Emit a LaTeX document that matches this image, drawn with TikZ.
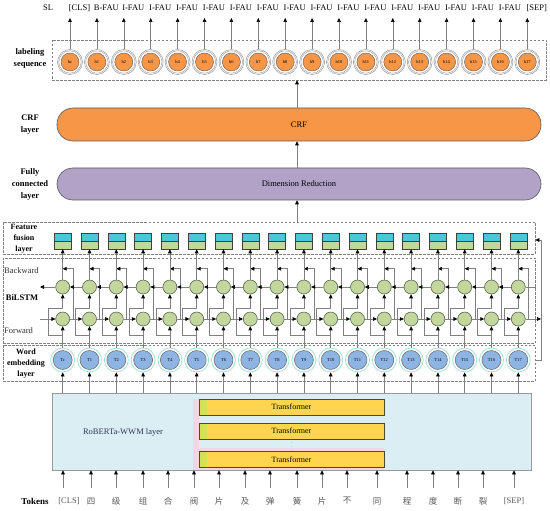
\documentclass[tikz,border=0pt]{standalone}
\usepackage{fontspec}
\setmainfont{Liberation Serif}
\newfontfamily\cjk{Noto Sans CJK SC}
\usetikzlibrary{arrows.meta,calc}
\definecolor{orangeF}{HTML}{F79646}
\definecolor{purpleF}{HTML}{B3A2C7}
\definecolor{lstmG}{HTML}{C3D69B}
\definecolor{fusC}{HTML}{4BC6DC}
\definecolor{robB}{HTML}{DAEEF3}
\definecolor{trY}{HTML}{FFD54F}
\definecolor{trL}{HTML}{D4E157}
\definecolor{pinkS}{HTML}{F2D6E6}
\definecolor{embB}{HTML}{8DB4E2}
\definecolor{embR}{HTML}{A6E3CF}
\definecolor{lineG}{HTML}{808080}
\definecolor{txtG}{HTML}{595959}
\begin{document}
\begin{tikzpicture}[x=1pt,y=-1pt,
  arr/.style={draw=lineG, line width=0.6pt, -{Triangle[length=4pt,width=3.6pt,color=black]}},
  ln/.style={draw=lineG, line width=0.6pt},
  dbox/.style={draw=lineG, dash pattern=on 2.5pt off 1.5pt, line width=0.6pt, inner sep=0pt},
  lbl/.style={font=\fontsize{8.5}{12}\selectfont, inner sep=0pt},
  side/.style={font=\bfseries\fontsize{8.5}{12}\selectfont, align=center, inner sep=0pt},
  sidet/.style={font=\bfseries\fontsize{8}{10.8}\selectfont, align=center, inner sep=0pt},
  hcirc/.style={circle, minimum size=25pt, inner sep=0pt, draw=gray!80, fill=white, line width=0.5pt,
    path picture={\draw[gray!80, line width=0.4pt] (path picture bounding box.center) circle (11.2pt);
      \filldraw[fill=orangeF, draw=gray!70!black, line width=0.4pt] (path picture bounding box.center) circle (9pt);},
    font=\fontsize{4.5}{5}\selectfont},
  embc/.style={circle, minimum size=24pt, inner sep=0pt, draw=embR, fill=white, line width=0.8pt,
    path picture={\filldraw[fill=embB, draw=gray!80!black, line width=0.5pt] (path picture bounding box.center) circle (9.5pt);},
    font=\fontsize{4.5}{5}\selectfont},
  lstmc/.style={circle, minimum size=14pt, inner sep=0pt, fill=lstmG, draw=gray!90!green!60!black, line width=0.5pt},
  fcell/.style={rectangle, minimum width=17pt, minimum height=16pt, inner sep=0pt, draw=black!75, line width=0.5pt,
    path picture={\fill[fusC] (path picture bounding box.north west) rectangle (path picture bounding box.east);
      \fill[lstmG] (path picture bounding box.west) rectangle (path picture bounding box.south east);
      \draw[black!75, line width=0.5pt] (path picture bounding box.west) -- (path picture bounding box.east);}},
  bigbox/.style={rounded corners=16pt, draw=gray!70!black, line width=0.6pt, inner sep=0pt,
    minimum width=484pt, font=\fontsize{8.5}{10}\selectfont},
  trbox/.style={rectangle, minimum width=185pt, minimum height=16pt, inner sep=0pt, fill=trY,
    draw=black!60!olive, line width=0.8pt, font=\fontsize{8}{10}\selectfont,
    path picture={\fill[trL] (path picture bounding box.north west) rectangle ([xshift=8pt]path picture bounding box.south west);}}
]
\useasboundingbox (0,0) rectangle (550,511);
\fill[white] (0,0) rectangle (550,511);

% containers
\node[dbox, minimum width=494pt, minimum height=40pt] (labbox) at (299,60) {};
\node[bigbox, fill=orangeF, minimum height=33pt] (crf) at (299,124.5) {CRF};
\node[bigbox, fill=purpleF, minimum height=32pt] (dr) at (299,184) {Dimension Reduction};
\node[dbox, minimum width=532pt, minimum height=32pt] (fusbox) at (269,238) {};
\node[dbox, minimum width=532pt, minimum height=85pt] (lstmbox) at (269,300.5) {};
\node[dbox, minimum width=532pt, minimum height=36pt] (embbox) at (269,363) {};
\node[rectangle, fill=robB, draw=gray!80, line width=0.6pt, minimum width=479pt, minimum height=77pt, inner sep=0pt] (rob) at (291.5,431.5) {};

% RoBERTa internals
\fill[pinkS] (193,399) rectangle (199,470);
\fill[pinkS] (193,447.5) rectangle (384,450.5);
\fill[pinkS] (193,467.5) rectangle (384,470);
\node[trbox] (tr1) at (291.5,407) {Transformer};
\node[trbox] (tr2) at (291.5,431) {Transformer};
\node[trbox] (tr3) at (291.5,459.5) {Transformer};
\node[inner sep=0pt, text=gray, font=\fontsize{5}{5}\selectfont] (dots) at (292,444.5) {$\vdots$};
\node[lbl, text=black!70!blue!60!gray] (robl) at (123,432) {RoBERTa-WWM layer};

% side labels
\node[lbl] (sl) at (48,8) {SL};
\node[side] (labL) at (30,58) {labeling\\sequence};
\node[side] (crfL) at (30,124.5) {CRF\\layer};
\node[side] (fcL) at (30,184) {Fully\\connected\\layer};
\node[sidet] (ffL) at (24,238.5) {Feature\\fusion\\layer};
\node[lbl, anchor=west, text=black!80] (bwL) at (4,271) {Backward};
\node[side] (biL) at (22,298) {BiLSTM};
\node[lbl, anchor=west, text=black!80] (fwL) at (4,331) {Forward};
\node[sidet] (weL) at (26,363.5) {Word\\embedding\\layer};
\node[side, font=\bfseries\fontsize{9}{12}\selectfont] (tokL) at (35,501) {Tokens};

% lower columns
\foreach \i in {0,...,17}{
  \pgfmathsetmacro\cx{62.7+26.8*\i}
  \node[embc] (e\i) at (\cx,360) {T\ifnum\i=0 c\else\i\fi};
  \node[lstmc] (f\i) at (\cx,319) {};
  \node[lstmc] (b\i) at (\cx,287) {};
  \node[fcell] (u\i) at (\cx,241) {};
  \coordinate (ein\i) at (\cx,393);
  \draw[arr] (ein\i) -- (e\i.south);
  \draw[arr] (e\i.north) -- (f\i.south);
  \coordinate (br\i) at (\cx,335);
  \draw[arr] (br\i) -- ++(-14,0) |- ($(b\i.south)+(0,14)$) -- (b\i.south);
  \draw[arr] ($(f\i.east)+(3,0)$) |- ($(b\i.north)+(0,-11)$);
  \draw[arr] (b\i.north) -- (u\i.south);
}
\foreach \i [evaluate=\i as \j using int(\i+1)] in {0,...,16}{
  \draw[arr] (f\i.east) -- (f\j.west);
  \draw[arr] (b\j.west) -- (b\i.east);
}
\coordinate (fin) at (40,319);
\coordinate (bout) at (40,287);
\coordinate (fout) at (541,319);
\coordinate (bin) at (536,287);
\draw[arr] (fin) -- (f0.west);
\draw[arr] (b0.west) -- (bout);
\draw[arr] (f17.east) -- (fout);
\draw[ln] (bin) -- (b17.east);
\draw[arr] (embbox.east |- 0,360) -- ++(6,0) |- (fusbox.east |- 0,240);

% upward arrows between layers
\draw[arr] (fusbox.north -| 297,0) -- (dr.south -| 297,0);
\draw[arr] (dr.north -| 297,0) -- (crf.south -| 297,0);
\draw[arr] (crf.north -| 297,0) -- (labbox.south -| 297,0);

% labeling sequence
\foreach \i in {0,...,17}{
  \pgfmathsetmacro\hx{70+26.9*\i}
  \node[hcirc] (h\i) at (\hx,62) {h\ifnum\i=0 c\else\i\fi};
  \coordinate (ht\i) at (\hx,18);
  \draw[arr] (h\i.north) -- (ht\i);
  \node[lbl] (l\i) at (\hx+9.5,8) {\ifnum\i=17 [SEP]\else\ifcase\i [CLS]\or B-FAU\else I-FAU\fi\fi};
}

% tokens
\foreach \ax/\tx/\tok [count=\k] in {63/69/{[CLS]},91/91/{\cjk 四},116/116/{\cjk 级},143/143/{\cjk 组},168/168/{\cjk 合},194/194/{\cjk 阀},219/219/{\cjk 片},245/245/{\cjk 及},270/270/{\cjk 弹},297/297/{\cjk 簧},322/322/{\cjk 片},347/347/{\cjk 不},377/377/{\cjk 同},407/407/{\cjk 程},433/433/{\cjk 度},458/458/{\cjk 断},483/483/{\cjk 裂},514/514/{[SEP]}}{
  \node[lbl, text=txtG] (t\k) at (\tx,501) {\tok};
  \coordinate (ta\k) at (\ax,488);
  \draw[arr] (ta\k) -- (ta\k |- rob.south);
}
\end{tikzpicture}
\end{document}
